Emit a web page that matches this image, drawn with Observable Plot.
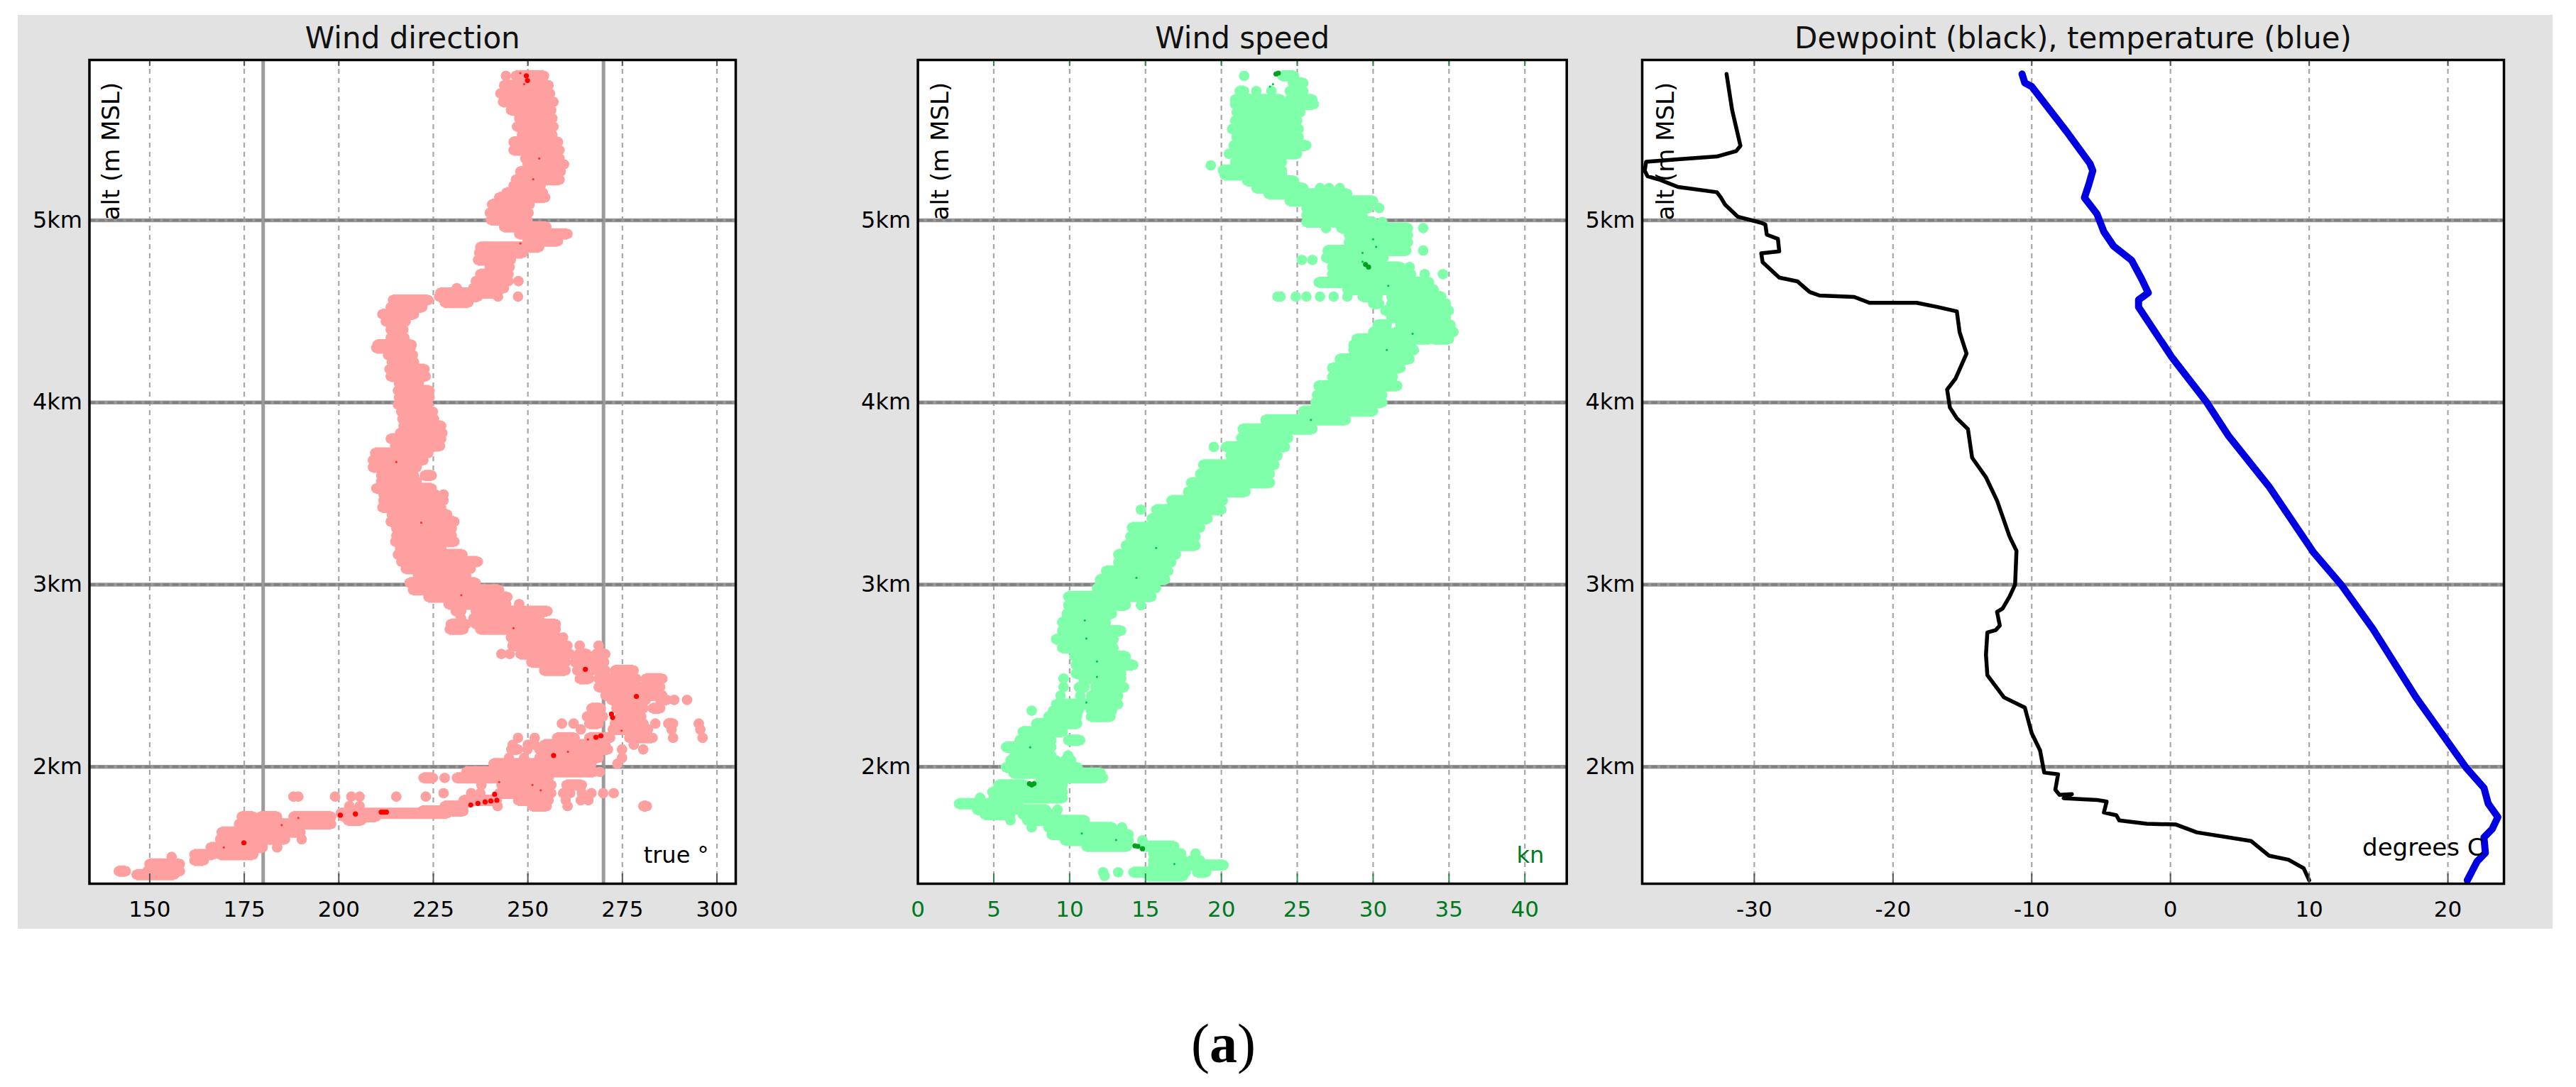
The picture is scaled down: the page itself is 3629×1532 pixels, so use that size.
<!DOCTYPE html>
<html><head><meta charset="utf-8">
<script src="https://cdn.jsdelivr.net/npm/d3@7"></script>
<script src="https://cdn.jsdelivr.net/npm/@observablehq/plot@0.6"></script>
<style>
html,body{margin:0;padding:0;background:#fff;width:3629px;height:1532px;overflow:hidden}
#bg{position:absolute;left:25px;top:21px;width:3571px;height:1288px;background:#e2e2e2}
#bg svg{position:absolute;top:0}
#cap{position:absolute;left:1678px;top:1424px;font:78px/1.2 "Liberation Serif",serif;color:#000}
</style></head><body>
<div id="bg"></div>
<div id="cap">(<b>a</b>)</div>
<script>
// each row: altitude (m), then dense runs [from, to] and single readings
const directionRows = [
[5793,244.2,[246.8,254.3]],[5741,[243.7,255.5]],[5696,[242.7,255.9]],[5650,[243.4,256.8]],[5605,[245.5,256.2]],[5560,[247.7,256.5]],[5514,[247.1,256.8]],
[5469,[248.4,256.5]],[5430,[246.2,258]],[5385,[246.2,258.4]],[5339,[249.3,258.4]],[5307,[249.9,259.6]],[5268,[248,258.7]],[5223,[246.8,258.4]],
[5190,[246.2,253.4]],[5151,[244.3,254]],[5125,[242.4,254.6]],[5087,[240.5,250.5]],[5041,[239.9,250.2]],[5002,[240.2,249.9]],[4964,[243.7,254.9]],
[4925,[247.7,260.5]],[4886,[249.9,258]],[4853,[237.4,253]],[4821,[237.1,248.7]],[4782,[236.8,245.5]],[4743,[239.9,245.2]],[4704,[237.4,244.9]],
[4666,[236.2,244.9],247.5],[4627,231.2,[235.5,243.7]],[4601,[226.8,241.8]],[4581,[226.5,236.8],242.1,247.4],[4562,[214.3,223.7]],[4549,[228,234.3]],
[4523,[213.7,222.1]],[4484,[211.5,219.9]],[4445,[212.4,217.7]],[4400,[213.7,217.1]],[4355,[213.7,217.4]],[4316,[210.2,219.3]],
[4299,[209.9,219]],[4260,[213,219.6]],[4221,[214,219.9]],[4182,[213.4,222.7]],[4143,[213.7,223]],[4104,[215.9,221.2]],[4065,[215.6,224]],
[4027,[215.9,224]],[3988,[215.6,223.7]],[3949,[216.5,224.9]],[3910,[216.8,225.2]],[3871,[217.1,227.1]],[3832,[216.2,227.4]],[3800,[213.7,227.1]],
[3761,[214.9,226.8]],[3722,[209.6,223.7]],[3683,[209,222.4]],[3644,[209,220.6]],[3599,[211.2,219.9],[222.7,224.6]],[3567,[211.2,220.6]],
[3528,[209.9,224.6]],[3495,[211.8,225.6],227.7],[3463,[211.8,225.6],227.7],[3424,[211.5,227.1]],[3385,[214,228.7]],[3346,[213.7,230.6]],
[3308,[215.2,229.9]],[3269,[215.2,229.9]],[3236,[214.9,230.6]],[3197,[216.2,227.1]],[3165,[215.6,232.7]],[3126,[216.5,236.8]],[3087,[217.7,234.9]],
[3049,[220.9,233.7]],[3010,[218.7,236.2]],[2971,[219.6,242.4]],[2932,[223.7,244.6]],[2893,[229,244.3],247.7],[2854,[230.9,232.4],[236.2,255.2]],
[2815,232.3,[235.6,253]],[2783,[229.6,233.7],[236.2,257.4]],
[2755,[229.3,233],[237.4,257.4]],[2710,[245.5,257.8],259.3],[2665,[245.9,260.5],263.7,268.7],[2619,243,245.2,[248,261.2],[263.4,265.6],[268,270.5]],
[2574,[250.9,260],[262.4,265.6],[266.8,270.2]],[2529,[254.3,260],[263,266.8],[268,270.5],[273,278]],[2483,[263.7,266.2],[268.7,278.7],[281.2,285.6]],
[2438,[268.7,278.7],[280,285]],[2392,[270.5,279.3],[281.2,285.6]],[2367,[272.1,281.2],[285,286.8],288.7,292.1],[2321,[266.8,269.3],[273.4,280.6],[283,285]],
[2276,[265.6,269.9],[274.3,280]],[2237,259,262.1,[266.2,268.7],[273,280.6],283.7,[287.1,288.4],295.2],[2205,264,[272.4,281.8],288,295.6],
[2159,247.4,251.8,[257.7,262.4],[266.2,271.8],[276.8,283],288.4,296.2],[2121,246,250,251.8,[254.3,270.5],278],
[2095,[245.6,247.4],249.9,[253,256.8],[258,271.2],274.9,280.5],[2049,245,249,[253,268.7],274.9],[2017,[240.9,266.8],273.7],[1972,[233.7,267.4],269],
[1939,228,[231.2,255.5],[222.4,224.9]],[1900,237.7,[243,254.3],256.2,[260.2,264.3]],
[1855,227.7,235,237.4,[242.4,256.2],[259.3,261.2],264.3,266.8,269.9,272.7],[1816,[233,241.8],[247.4,255.5],260,264,266],
[1784,[228,233],242,[251.2,255],260.5,[280.5,281.5],202.8,205.5],[1836,188,189.3,199,203.3,205.5,215.2,223],[1757,[222,233]],
[1745,[200.5,228.7]],[1726,[174.3,177.4],[179.3,183.7],[188,198],[201.2,209.9]],[1706,[202.4,206]],[1686,[173.6,198]],[1641,[169,189.9]],[1602,[168.6,185.8],190.2],
[1557,[166.1,179.9],183.7],[1518,[161.8,166.8],[168.6,177.4]],[1505,155.8],[1486,[161.8,164.3]],[1466,[149.9,158]],[1427,[141.8,143.7],[149.3,158]],[1408,[146.5,156.5]]
];
const directionStrong = [[174.9,1583],[200.4,1734],[204.4,1741],[211.2,1751],[211.9,1751],[212.6,1751],[234.9,1790],[236.8,1799],[238.7,1807],[240.2,1812],[241.8,1816],[241.2,1849],[256.8,2062],[269.3,2170],[268,2162],[272.1,2289],[272.4,2270],[278.7,2386],[265.2,2535],[249.6,5793],[249.9,5767]];
const directionFaint = [[169.6,1557],[189.3,1719],[184.9,1680],[260.6,2082],[265.9,2150],[274.8,2198],[242.4,1916],[251.2,1900],[253.4,1871],[248,5808],[249,5747],[251.4,5225],[253,5339],[248,4873],[215.2,3673],[221.8,3340],[246.2,2761],[232.4,2942]];

const speedRows = [
[5793,21.5,[24,24.8]],[5754,[24.7,25.4]],[5709,[21.2,21.5],22.3,23.3,[24.5,25.4]],[5663,[20.9,23.9],[24.5,26]],[5637,[20.9,26.1]],[5592,[21,25.2]],[5547,[20.9,25]],
[5501,[20.7,25.1]],[5456,[21,25.1]],[5411,[20.8,25.6]],[5365,20.5,[21,25]],[5320,[20.9,24]],[5301,19.3],[5275,[20.1,24]],[5249,[20.2,24]],[5216,[21.7,24.8]],
[5177,[22.3,25.4],26.5,27.1,27.8],[5145,[23.1,26.2],[26.5,28.3]],[5106,[24.5,30]],[5067,[25.6,29.7],30.4],[5028,[25.6,29.3]],[4990,[25.6,26.7],[27.3,30],30.6],
[4957,26.9,[27.9,32.3],33.3],[4918,[28.4,32.3]],[4879,[28.4,32.3]],[4834,[27,32.2],33.3],[4795,[26.9,30.7]],[4782,25.3,26],[4743,[27.3,31.8],32.4],
[4704,[27.3,32.5],33.4,34.6],[4659,[26.4,29.2],[29.3,33.7]],[4620,[28.3,34]],[4581,23.7,23.9,24.9,25.6,26.5,27.4,28.3,[29.3,30.3],[31.2,34.5]],
[4543,[30,30.4],[31.2,34.8]],[4504,[30.8,35]],[4465,[31.2,34.8]],[4426,[30.3,30.9],[31.8,35.1]],[4387,[30,31],[31.5,35.3]],[4348,[28.9,33.7],[34,35]],[4316,[28.7,32.5]],
[4288,[28.7,32.7]],[4238,[27.8,32.4]],[4189,[27.3,31.8]],[4140,[27.3,31.3]],[4091,[26.4,31.6]],[4041,[26.3,30.6]],[4000,[26.2,30.6]],
[3953,[25.4,30]],[3904,[22.9,28.2]],[3854,[21.4,26]],[3805,[21.3,24.4]],[3756,[20.3,24.2],19.5],[3707,[20.6,23.7]],[3657,[18.8,23.5]],
[3608,[18.6,23.2]],[3559,[18,23.2]],[3510,[17.8,21.6]],[3461,[16.7,20.1]],[3411,14.7,[15.7,20]],[3362,[15.4,19.1]],[3313,[14.1,18.6]],
[3264,[14,18.3]],[3215,[13.7,18.3]],[3165,[13.2,17]],[3122,[13.2,16.7]],[3075,[12.4,16.5]],[3028,[12,16.3]],[2981,[11.8,15.7]],
[2934,[9.9,15.4]],[2887,[9.9,13.7],14.7],[2840,[9.8,12.8]],[2794,[9.5,12.4]],[2747,[9.5,13.4]],[2700,[9.1,12.9]],[2653,[9.5,12.9]],
[2606,[10.3,13.7]],[2559,[10.4,14.2]],[2512,[10.4,13.4]],[2484,9.6,[10.9,13.4]],[2437,9.6,[10.6,11],[11.7,13.6]],[2390,9.4,10.7,[11.4,13.2]],[2343,[9.1,13.2]],
[2308,7.5,[8.9,10.6],[11.4,12.8]],[2276,[8.6,10.5],[11.4,12.7]],[2237,[7.8,10.5]],[2192,[6.9,9.55]],[2146,[6.7,8.8],[9.9,10.7]],[2108,[5.8,8.8]],[2062,[6.35,8.8],9.9],
[2036,[6.1,9.1],[9.7,10.1]],[1997,[5.8,10.5]],[1965,[6.3,12.05]],[1939,[8.1,12.2]],[1900,[5.3,7.05],[7.8,9.55]],[1861,[4.9,9.55]],[1829,4.1,[5,9.55]],
[1797,[2.7,6.6]],[1764,[3.9,6.3],[6.6,8.45],9.2],[1738,[4.4,6.1],[6.9,9.1]],[1706,6.1,[7.2,11]],[1667,7.5,[8.6,12.8],13.45],[1628,[8.8,13.9]],[1596,[9.7,13.9],14.8],
[1563,[11.1,13.8],[14.85,16.9]],[1524,[15.5,17.35],18.3],[1486,[15.5,17.5],[18,18.6]],[1460,[15.5,20.15]],[1421,12.2,13.2,[14.2,17.65],[18.4,19]],[1401,12.3,[15.2,17.5]]
];
const speedStrong = [[23.6,5803],[23.75,5808],[29.7,4743],[29.5,4757],[7.5,1900],[7.35,1907],[7.65,1907],[14.5,1563],[14.8,1550],[14.3,1566]];
const speedFaint = [[23.4,5747],[23.2,5734],[29.3,4821],[29.3,4772],[30,4896],[30.2,4854],[31,4640],[32.6,4377],[30.9,4288],[25.9,3904],[15.7,3201],[14.4,3037],[11,2803],[11.1,2704],[11.8,2578],[11.8,2493],[11.1,2353],[7.4,2107],[13.06,1598],[10.8,1634],[16.9,1466]];

const dewpoint = [[-32,5803],[-31.6,5606],[-31.3,5508],[-31,5409],[-31.3,5380],[-32.7,5350],[-35.5,5335],[-37.8,5321],[-37.9,5272],[-37.7,5242],[-36.8,5222],[-35.5,5183],[-32.7,5154],[-32.4,5124],[-32.1,5085],[-31.2,5020],[-29.5,4986],[-29.2,4976],[-29.1,4921],[-28.3,4898],[-28.2,4829],[-29.5,4819],[-29.4,4770],[-28.2,4685],[-26.9,4665],[-26,4606],[-25.3,4587],[-22.8,4579],[-21.7,4547],[-18.3,4547],[-16.8,4524],[-15.4,4500],[-15.2,4386],[-14.7,4268],[-15.1,4199],[-15.5,4130],[-16.1,4071],[-15.9,3972],[-15.4,3913],[-14.6,3854],[-14.3,3697],[-13.3,3589],[-12.5,3461],[-11.6,3264],[-11.1,3185],[-11.2,3000],[-11.6,2934],[-12.1,2869],[-12.5,2850],[-12.3,2775],[-12.6,2750],[-13.2,2737],[-13.3,2615],[-13.2,2503],[-12,2381],[-10.5,2325],[-10,2184],[-9.4,2090],[-9.1,1968],[-8.1,1959],[-8.3,1874],[-8,1846],[-7.1,1850],[-7.7,1827],[-5.3,1818],[-4.6,1809],[-4.8,1749],[-3.9,1734],[-3.7,1706],[-1.7,1687],[0.4,1683],[1.9,1640],[5.8,1593],[7.1,1512],[8.5,1490],[9.6,1443],[10,1377]];
const temperature = [[-10.7,5803],[-10.5,5754],[-10,5734],[-7.5,5488],[-5.8,5311],[-5.6,5272],[-5.9,5193],[-6.2,5124],[-5.3,5035],[-4.8,4937],[-4.1,4858],[-2.8,4780],[-2.1,4681],[-1.6,4602],[-2.3,4563],[-2.3,4524],[0.1,4248],[2.6,4002],[4.2,3815],[7.1,3539],[10.3,3178],[12.3,3000],[14.6,2756],[17.7,2381],[21.3,1996],[22.6,1884],[22.9,1799],[23.6,1724],[23.2,1659],[22.6,1612],[22.7,1527],[22.1,1480],[21.4,1377]];

const altTicks = [2000,3000,4000,5000];
const directionTicks = [150,175,200,225,250,275,300];
const directionHeavy = [180,270];
const speedTicks = [5,10,15,20,25,30,35,40];
const speedLabels = [0,5,10,15,20,25,30,35,40];
const tempTicks = [-30,-20,-10,0,10,20];
const altDomain = [1358,5880];
const FONT = "DejaVu Sans";

function runsOf(rows){
  const out=[];
  for(const [alt,...items] of rows) for(const it of items){
    if(Array.isArray(it)) out.push({alt,from:it[0],to:it[1]});
    else out.push({alt,from:it,to:it});
  }
  return out;
}

function panel(o){
  const marks=[
    Plot.frame({fill:"white",stroke:null}),
    Plot.ruleX(o.grid,{stroke:"#a8a8a8",strokeWidth:2.2,strokeDasharray:"7,6"}),
    ...(o.heavy?[Plot.ruleX(o.heavy,{stroke:"#9c9c9c",strokeWidth:5})]:[]),
    Plot.ruleY(altTicks,{stroke:"#9a9a9a",strokeWidth:5.5}),
    Plot.ruleY(altTicks,{stroke:"#808080",strokeWidth:3.5,strokeDasharray:"9,4"}),
    Plot.text(["alt (m MSL)"],{text:d=>d,x:o.domain[0],y:5000,rotate:-90,textAnchor:"start",dx:o.altDx,dy:0,fontSize:34,fill:"black"}),
    ...o.marks,
    Plot.text(["u"],{text:()=>o.unit,frameAnchor:"bottom-right",dx:-o.unitDx,dy:-o.unitDy,fontSize:o.unitSize,fill:o.tickColor,textAnchor:"end"}),
    Plot.axisX(o.labels,{anchor:"bottom",label:null,tickSize:0,tickPadding:24,fontSize:31,color:o.tickColor,tickFormat:d=>String(d)}),
    Plot.axisX(o.grid,{anchor:"bottom",label:null,tickSize:-14,stroke:o.tickStroke,strokeWidth:2,text:null}),
    Plot.axisX(o.grid,{anchor:"top",label:null,tickSize:-8,stroke:o.tickStroke,strokeWidth:2,text:null}),
    Plot.axisY(altTicks,{anchor:"left",label:null,tickSize:0,tickPadding:10,fontSize:32,color:"black",tickFormat:d=>d/1000+"km"}),
    Plot.frame({stroke:"black",strokeWidth:3.5}),
    Plot.text([o.title],{text:d=>d,frameAnchor:"top",dy:-17,lineAnchor:"bottom",fontSize:42,fill:"#111"})
  ];
  const svg=Plot.plot({
    width:o.w,height:1288,marginLeft:o.ml,marginRight:o.mr,marginTop:63,marginBottom:64,
    style:{background:"transparent",fontFamily:FONT,overflow:"visible"},
    x:{domain:o.domain,label:null,axis:null},
    y:{domain:altDomain,label:null,axis:null},
    marks
  });
  svg.style.left=o.left+"px";
  document.getElementById("bg").appendChild(svg);
}

function cloud(rows,strong,faint,pale,dark,mid,r){
  const runs=runsOf(rows);
  return [
    Plot.ruleY(runs.filter(d=>d.from!==d.to),{y:"alt",x1:"from",x2:"to",stroke:pale,strokeWidth:2*r+1.6}),
    Plot.dot(runs,{x:"from",y:"alt",r,fill:pale}),
    Plot.dot(runs,{x:"to",y:"alt",r,fill:pale}),
    Plot.dot(faint,{x:d=>d[0],y:d=>d[1],r:1.6,fill:mid}),
    Plot.dot(strong,{x:d=>d[0],y:d=>d[1],r:3.6,fill:dark})
  ];
}

panel({left:0,w:1175,ml:100.5,mr:164,domain:[134.06,304.97],grid:directionTicks,labels:directionTicks,heavy:directionHeavy,
  marks:cloud(directionRows,directionStrong,directionFaint,"#ffa0a0","#ff0000","#ff3030",7.2),tickColor:"black",tickStroke:"#555",unit:"true °",unitSize:32,unitDx:38,unitDy:30,altDx:31,title:"Wind direction"});
panel({left:1175,w:1040,ml:92.6,mr:33.3,domain:[0,42.76],grid:speedTicks,labels:speedLabels,
  marks:cloud(speedRows,speedStrong,speedFaint,"#80ffaa","#00a020","#00c840",7.2),tickColor:"#007a20",tickStroke:"#2f8a4a",unit:"kn",unitSize:32,unitDx:32,unitDy:30,altDx:32,title:"Wind speed"});
panel({left:2195,w:1375,ml:93,mr:68,domain:[-38.08,24.04],grid:tempTicks,labels:tempTicks,
  marks:[
    Plot.line(dewpoint,{x:d=>d[0],y:d=>d[1],stroke:"black",strokeWidth:5.5}),
    Plot.line(temperature,{x:d=>d[0],y:d=>d[1],stroke:"#0000e0",strokeWidth:10})
  ],tickColor:"black",tickStroke:"#555",unit:"degrees C",unitSize:34,unitDx:28,unitDy:40,altDx:34,title:"Dewpoint (black), temperature (blue)"});
</script>
</body></html>
